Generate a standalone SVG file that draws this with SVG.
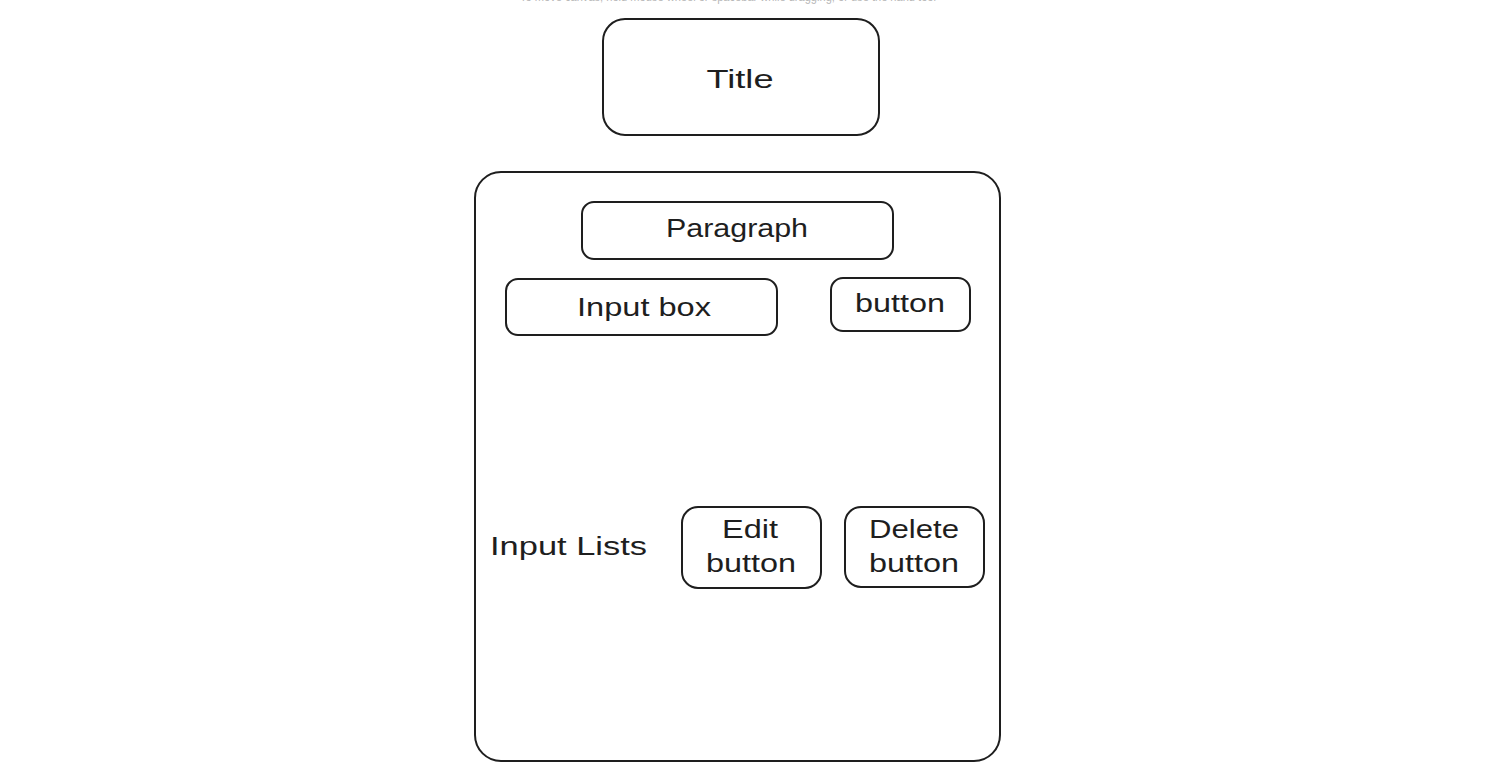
<svg xmlns="http://www.w3.org/2000/svg" width="1495" height="767" viewBox="0 0 1495 767">
<style>
.box{fill:none;stroke:#1e1e1e;stroke-width:2;stroke-linecap:round;stroke-linejoin:round}
.lbl{font-family:"Liberation Sans","Noto Sans",sans-serif;font-size:26px;fill:#1e1e1e}
.hint{font-family:"Liberation Sans","Noto Sans",sans-serif;font-size:12px;fill:#b8b8b8}
</style>
<rect width="1495" height="767" fill="#ffffff"/>
<text class="hint" x="728" y="1" text-anchor="middle" textLength="416" lengthAdjust="spacingAndGlyphs">To move canvas, hold mouse wheel or spacebar while dragging, or use the hand tool</text>
<g id="title">
<rect class="box" x="603" y="19" width="276" height="116" rx="22"/>
<text class="lbl" x="740" y="88" text-anchor="middle" textLength="67" lengthAdjust="spacingAndGlyphs">Title</text>
</g>
<g id="container">
<rect class="box" x="475" y="172" width="525" height="589" rx="26"/>
</g>
<g id="paragraph">
<rect class="box" x="582" y="202" width="311" height="57" rx="12"/>
<text class="lbl" x="737" y="237" text-anchor="middle" textLength="142" lengthAdjust="spacingAndGlyphs">Paragraph</text>
</g>
<g id="input-box">
<rect class="box" x="506" y="279" width="271" height="56" rx="12"/>
<text class="lbl" x="644" y="316" text-anchor="middle" textLength="134" lengthAdjust="spacingAndGlyphs">Input box</text>
</g>
<g id="button">
<rect class="box" x="831" y="278" width="139" height="53" rx="12"/>
<text class="lbl" x="900" y="312" text-anchor="middle" textLength="90" lengthAdjust="spacingAndGlyphs">button</text>
</g>
<g id="input-lists">
<text class="lbl" x="490" y="555" textLength="157" lengthAdjust="spacingAndGlyphs">Input Lists</text>
</g>
<g id="edit-button">
<rect class="box" x="682" y="507" width="139" height="81" rx="16"/>
<text class="lbl" x="750" y="538" text-anchor="middle" textLength="56" lengthAdjust="spacingAndGlyphs">Edit</text>
<text class="lbl" x="751" y="572" text-anchor="middle" textLength="90" lengthAdjust="spacingAndGlyphs">button</text>
</g>
<g id="delete-button">
<rect class="box" x="845" y="507" width="139" height="80" rx="16"/>
<text class="lbl" x="914" y="538" text-anchor="middle" textLength="90" lengthAdjust="spacingAndGlyphs">Delete</text>
<text class="lbl" x="914" y="572" text-anchor="middle" textLength="90" lengthAdjust="spacingAndGlyphs">button</text>
</g>
<g id="connectors"></g>
</svg>
